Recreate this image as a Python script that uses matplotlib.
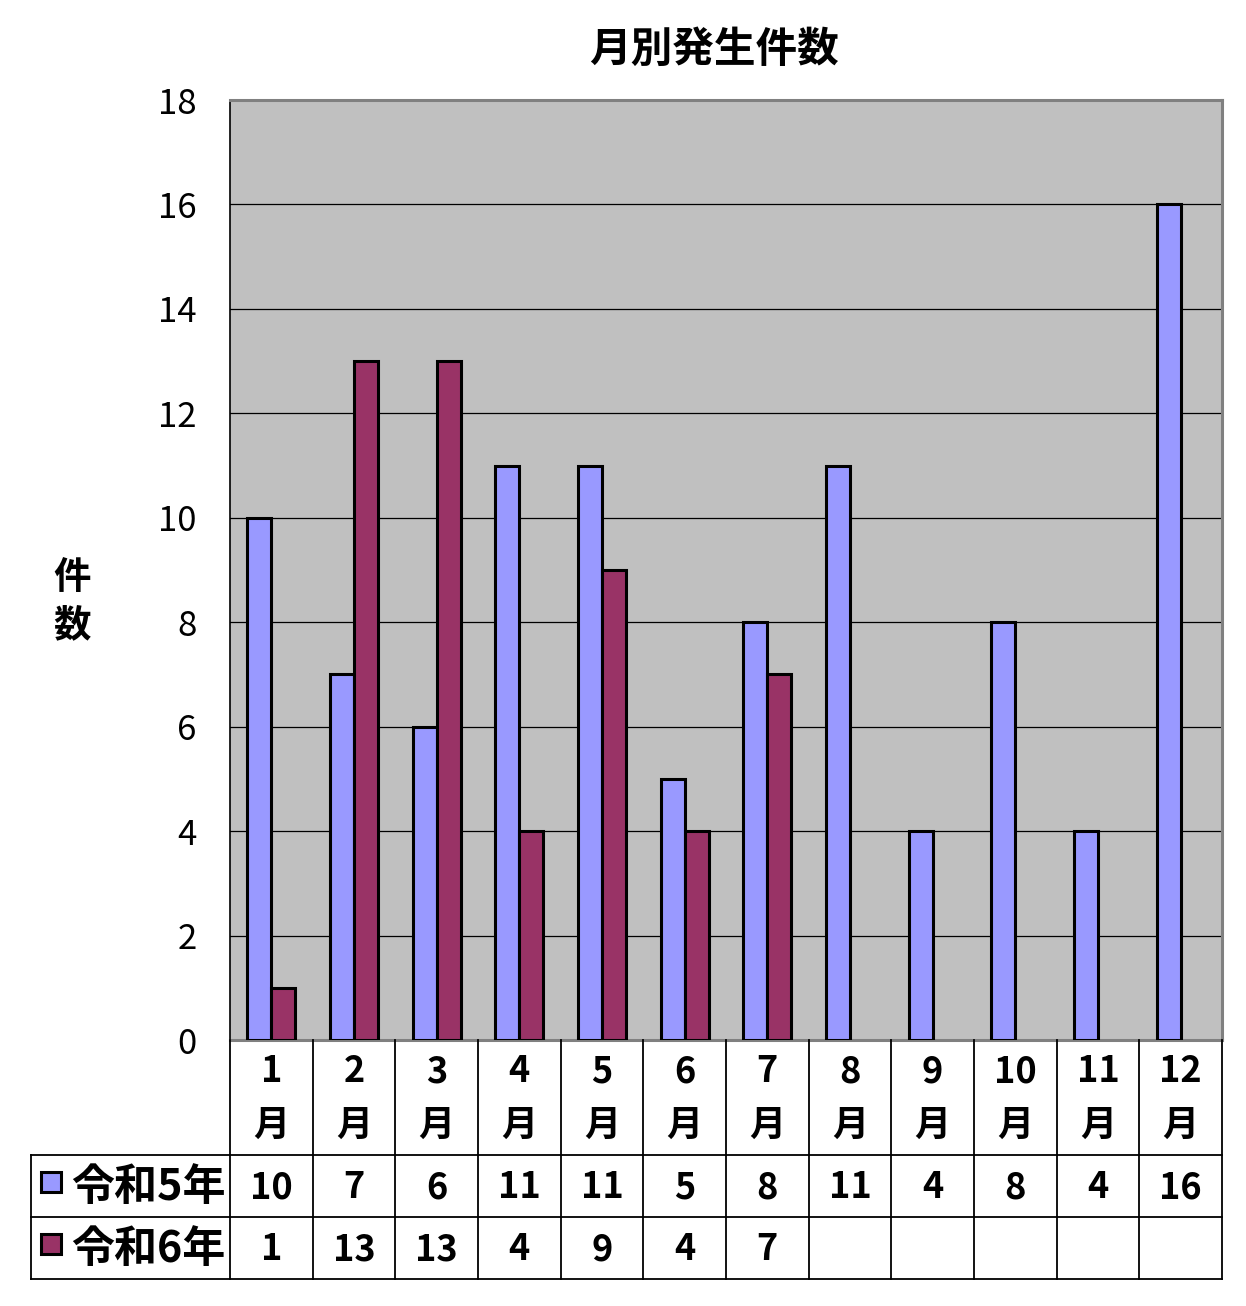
import numpy as np
import matplotlib.pyplot as plt

plt.rcParams['font.family'] = ['Noto Sans CJK JP', 'DejaVu Sans']

months = ['1', '2', '3', '4', '5', '6', '7', '8', '9', '10', '11', '12']
series_names = ['令和5年', '令和6年']
r5 = [10, 7, 6, 11, 11, 5, 8, 11, 4, 8, 4, 16]
r6 = [1, 13, 13, 4, 9, 4, 7]
colors = ['#9999FF', '#993366']

W, H = 1246, 1306


def box(l, t, r, b):
    # pixel box (from top-left) -> figure fractions
    return [l / W, (H - b) / H, (r - l) / W, (b - t) / H]


fig = plt.figure(figsize=(W / 100, H / 100), dpi=100)

# plot area
ax = fig.add_axes(box(230, 100, 1222, 1040))
ax.set_facecolor('#C0C0C0')
x = np.arange(len(months))
bw = 0.29
ax.bar(x - bw / 2, r5, bw, color=colors[0], edgecolor='black', linewidth=2.2, zorder=3)
ax.bar(x[:len(r6)] + bw / 2, r6, bw, color=colors[1], edgecolor='black', linewidth=2.2, zorder=3)
ax.set_xlim(-0.5, len(months) - 0.5)
ax.set_ylim(0, 18)
ax.set_yticks(range(0, 19, 2))
ax.set_xticks([])
ax.grid(axis='y', color='black', linewidth=0.9, zorder=1)
ax.tick_params(axis='y', length=0, pad=24, labelsize=25)
for s in ['top', 'right', 'bottom']:
    ax.spines[s].set_color('#808080')
    ax.spines[s].set_linewidth(2.2)
ax.spines['left'].set_color('black')
ax.spines['left'].set_linewidth(1.2)

fig.text(714 / W, 1 - 50 / H, '月別発生件数', ha='center', va='center',
         fontsize=30, fontweight='bold')
fig.text(72 / W, 1 - 578 / H, '件', ha='center', va='center', fontsize=27, fontweight='bold')
fig.text(72 / W, 1 - 625 / H, '数', ha='center', va='center', fontsize=27, fontweight='bold')

# data table below
cw = 992 / 12
extra = (230 - 31) / cw
tx = fig.add_axes(box(31, 1040, 1222, 1280))
tx.set_xlim(-0.5 - extra, 11.5)
tx.set_ylim(240, 0)
tx.axis('off')
lw = 1.3
xl = -0.5 - extra
for b in np.arange(-0.5, 12.0, 1.0):
    tx.plot([b, b], [0, 239], color='black', lw=lw, clip_on=False)
tx.plot([xl, xl], [115, 239], color='black', lw=lw, clip_on=False)
for yy in [115, 177, 239]:
    tx.plot([xl, 11.5], [yy, yy], color='black', lw=lw, clip_on=False)

for i, m in enumerate(months):
    tx.text(i, 32, m, ha='center', va='center', fontsize=26, fontweight='bold')
    tx.text(i, 85, '月', ha='center', va='center', fontsize=26, fontweight='bold')
    tx.text(i, 148, str(r5[i]), ha='center', va='center', fontsize=26, fontweight='bold')
    if i < len(r6):
        tx.text(i, 210, str(r6[i]), ha='center', va='center', fontsize=26, fontweight='bold')

for k, (name, c) in enumerate(zip(series_names, colors)):
    yy = 147 + 62 * k
    tx.plot([xl + 20 / cw], [yy - 5], marker='s', markersize=14,
            markerfacecolor=c, markeredgecolor='black', markeredgewidth=2.2, clip_on=False)
    tx.text(xl + 40 / cw, yy, name, ha='left', va='center', fontsize=31, fontweight='bold')

fig.savefig('out.png', dpi=100)
